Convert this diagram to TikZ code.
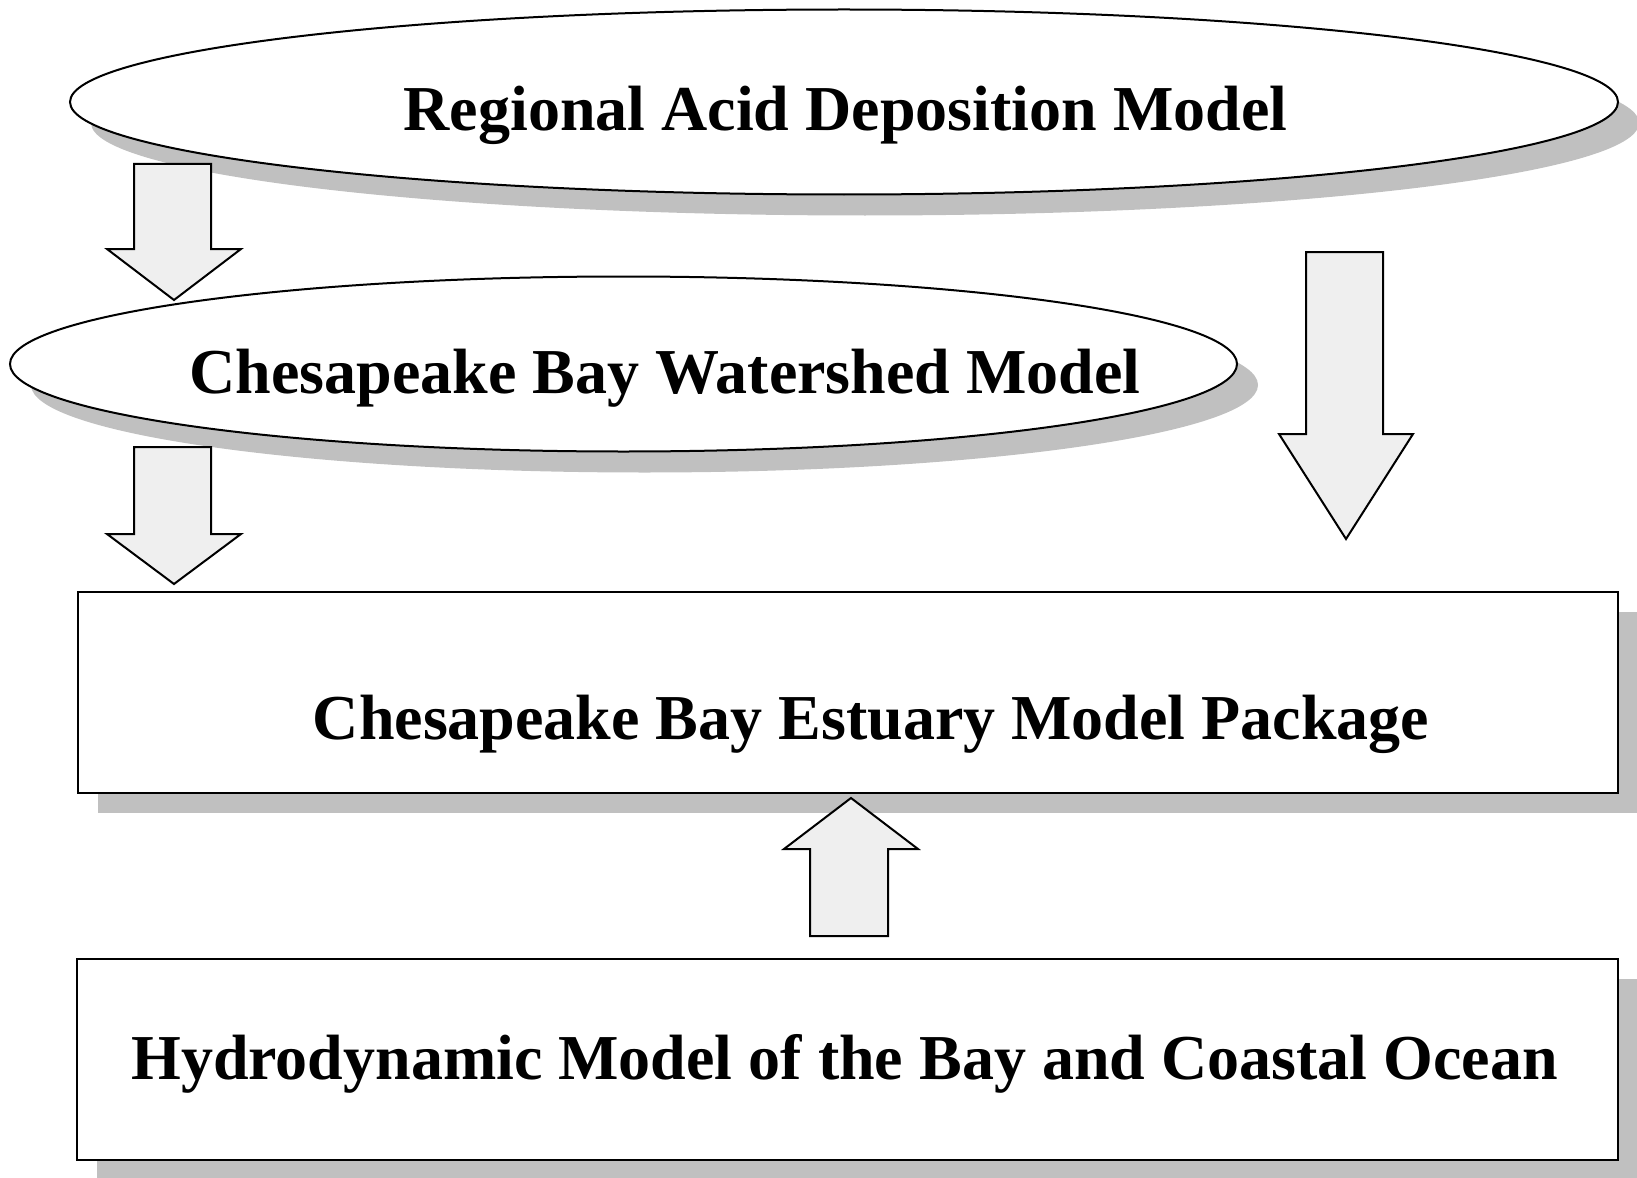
\documentclass[tikz,border=0pt]{standalone}
\usepackage{fontspec}
\setmainfont{Liberation Serif}
\usetikzlibrary{shapes.geometric}
\definecolor{shadowgray}{HTML}{C0C0C0}
\definecolor{arrowfill}{HTML}{EFEFEF}
\begin{document}
\begin{tikzpicture}[x=1pt,y=-1pt,
  outline/.style={draw=black,line width=2pt},
  shad/.style={fill=shadowgray,draw=none},
  modellabel/.style={anchor=base,inner sep=0pt,font=\fontsize{64}{70}\selectfont\bfseries},
  blockarrow/.style={draw=black,line width=2pt,fill=arrowfill,line join=miter}]
\useasboundingbox (0,0) rectangle (1637,1177);

% shadows
\path[shad] (865,123) ellipse [x radius=774,y radius=92.5];
\path[shad] (644.5,385) ellipse [x radius=613.5,y radius=87.5];
\path[shad] (98,612) rectangle (1638,813);
\path[shad] (97,979) rectangle (1638,1180);

% shapes
\node[ellipse,outline,fill=white,minimum width=1548pt,minimum height=185pt,inner sep=0pt] (rad) at (844,102) {};
\node[ellipse,outline,fill=white,minimum width=1227pt,minimum height=175pt,inner sep=0pt] (cbw) at (623.5,364) {};
\node[rectangle,outline,fill=white,minimum width=1540pt,minimum height=201pt,inner sep=0pt,anchor=north west] (est) at (77,591) {};
\node[rectangle,outline,fill=white,minimum width=1541pt,minimum height=201pt,inner sep=0pt,anchor=north west] (hyd) at (76,958) {};

% block arrows
\draw[blockarrow] (134,164) -- (211,164) -- (211,249) -- (241,249) -- (174,300) -- (107,249) -- (134,249) -- cycle;
\draw[blockarrow] (134,447) -- (211,447) -- (211,534) -- (241,534) -- (174,584) -- (107,534) -- (134,534) -- cycle;
\draw[blockarrow] (1306,252) -- (1383,252) -- (1383,434) -- (1413,434) -- (1346,539) -- (1279,434) -- (1306,434) -- cycle;
\draw[blockarrow] (810,936) -- (888,936) -- (888,849) -- (918,849) -- (851,798) -- (784,849) -- (810,849) -- cycle;

% labels
\node[modellabel] (t1) at (845.5,131) {Regional Acid Deposition Model};
\node[modellabel] (t2) at (665,393) {Chesapeake Bay Watershed Model};
\node[modellabel] (t3) at (871,739) {Chesapeake Bay Estuary Model Package};
\node[modellabel] (t4) at (844.5,1079) {Hydrodynamic Model of the Bay and Coastal Ocean};
\end{tikzpicture}
\end{document}
